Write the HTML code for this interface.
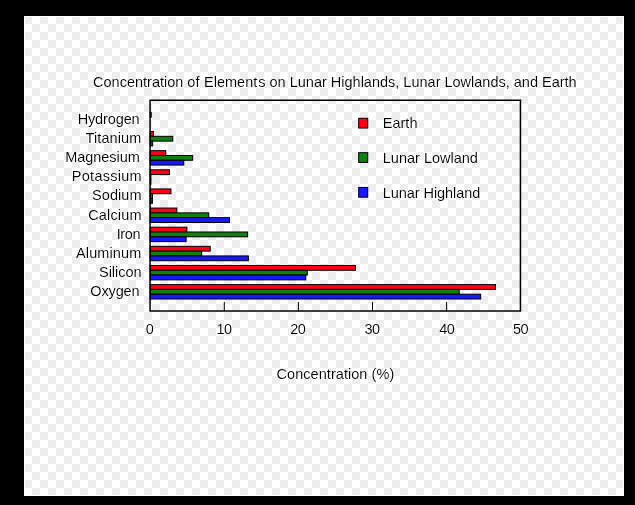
<!DOCTYPE html><html><head><meta charset="utf-8"><title>Concentration of Elements on Lunar Highlands, Lunar Lowlands, and Earth</title><style>html,body{margin:0;padding:0;background:#000;overflow:hidden}svg{display:block;will-change:transform}</style></head><body>
<svg width="635" height="505" viewBox="0 0 635 505" font-family="'Liberation Sans', sans-serif" font-size="14.5">
<defs><filter id="thin" filterUnits="userSpaceOnUse" x="0" y="0" width="635" height="505"><feComponentTransfer><feFuncA type="gamma" amplitude="1" exponent="1.4" offset="0"/></feComponentTransfer></filter><pattern id="ck" patternUnits="userSpaceOnUse" x="24" y="16" width="16" height="16"><rect x="0" y="0" width="8" height="8" fill="#ededed"/><rect x="8" y="8" width="8" height="8" fill="#ededed"/></pattern></defs>
<rect x="0" y="0" width="635" height="505" fill="#000"/>
<rect x="24" y="16" width="600" height="480" fill="#fff"/>
<rect x="25" y="17" width="598" height="478" fill="url(#ck)"/>
<g filter="url(#thin)">
<text x="93.05" y="87">Concentration of <tspan dx="0.6">Element</tspan><tspan dx="1.0">s on Lunar Highlands, Lunar Lowlands, and Earth</tspan></text>
</g><g stroke="#000" stroke-width="1">
<rect x="150.20" y="112.40" width="1.04" height="4.80" fill="#ff0018"/>
<rect x="150.20" y="117.20" width="0.00" height="4.80" fill="#108010"/>
<rect x="150.20" y="122.00" width="0.00" height="4.80" fill="#1818ff"/>
<rect x="150.20" y="131.53" width="3.26" height="4.80" fill="#ff0018"/>
<rect x="150.20" y="136.33" width="22.60" height="4.80" fill="#108010"/>
<rect x="150.20" y="141.13" width="2.45" height="4.80" fill="#1818ff"/>
<rect x="150.20" y="150.67" width="15.56" height="4.80" fill="#ff0018"/>
<rect x="150.20" y="155.47" width="42.46" height="4.80" fill="#108010"/>
<rect x="150.20" y="160.27" width="33.57" height="4.80" fill="#1818ff"/>
<rect x="150.20" y="169.80" width="19.27" height="4.80" fill="#ff0018"/>
<rect x="150.20" y="174.60" width="0.74" height="4.80" fill="#108010"/>
<rect x="150.20" y="179.40" width="0.74" height="4.80" fill="#1818ff"/>
<rect x="150.20" y="188.93" width="20.75" height="4.80" fill="#ff0018"/>
<rect x="150.20" y="193.73" width="2.22" height="4.80" fill="#108010"/>
<rect x="150.20" y="198.53" width="2.22" height="4.80" fill="#1818ff"/>
<rect x="150.20" y="208.06" width="26.68" height="4.80" fill="#ff0018"/>
<rect x="150.20" y="212.87" width="58.54" height="4.80" fill="#108010"/>
<rect x="150.20" y="217.66" width="79.29" height="4.80" fill="#1818ff"/>
<rect x="150.20" y="227.20" width="36.68" height="4.80" fill="#ff0018"/>
<rect x="150.20" y="232.00" width="97.44" height="4.80" fill="#108010"/>
<rect x="150.20" y="236.80" width="35.94" height="4.80" fill="#1818ff"/>
<rect x="150.20" y="246.33" width="60.02" height="4.80" fill="#ff0018"/>
<rect x="150.20" y="251.13" width="51.50" height="4.80" fill="#108010"/>
<rect x="150.20" y="255.93" width="98.18" height="4.80" fill="#1818ff"/>
<rect x="150.20" y="265.46" width="205.26" height="4.80" fill="#ff0018"/>
<rect x="150.20" y="270.26" width="157.09" height="4.80" fill="#108010"/>
<rect x="150.20" y="275.06" width="155.61" height="4.80" fill="#1818ff"/>
<rect x="150.20" y="284.60" width="345.31" height="4.80" fill="#ff0018"/>
<rect x="150.20" y="289.40" width="309.00" height="4.80" fill="#108010"/>
<rect x="150.20" y="294.20" width="330.49" height="4.80" fill="#1818ff"/>
</g>
<g filter="url(#thin)">
<text x="139.65" y="124" text-anchor="end" textLength="62.025" lengthAdjust="spacing">Hydrogen</text>
<text x="141.30" y="143" text-anchor="end" textLength="55.733" lengthAdjust="spacing">Titanium</text>
<text x="139.82" y="162" text-anchor="end" textLength="74.683" lengthAdjust="spacing">Magnesium</text>
<text x="141.61" y="181" text-anchor="end" textLength="69.763" lengthAdjust="spacing">Potassium</text>
<text x="141.50" y="200" text-anchor="end" textLength="49.432" lengthAdjust="spacing">Sodium</text>
<text x="141.51" y="220" text-anchor="end" textLength="53.385" lengthAdjust="spacing">Calcium</text>
<text x="140.50" y="239" text-anchor="end" textLength="23.870" lengthAdjust="spacing">Iron</text>
<text x="141.30" y="258" text-anchor="end" textLength="65.269" lengthAdjust="spacing">Aluminum</text>
<text x="141.50" y="277" text-anchor="end" textLength="42.489" lengthAdjust="spacing">Silicon</text>
<text x="139.55" y="296" text-anchor="end" textLength="49.234" lengthAdjust="spacing">Oxygen</text>
</g>
<path d="M150.07 100.28 L520.45 100.28 L520.45 311.1 L150.07 311.1 Z" fill="none" stroke="#000" stroke-width="1.5"/>
<line x1="224.30" y1="302" x2="224.30" y2="311.1" stroke="#000" stroke-width="1"/>
<line x1="298.40" y1="302" x2="298.40" y2="311.1" stroke="#000" stroke-width="1"/>
<line x1="372.50" y1="302" x2="372.50" y2="311.1" stroke="#000" stroke-width="1"/>
<line x1="446.60" y1="302" x2="446.60" y2="311.1" stroke="#000" stroke-width="1"/>
<g filter="url(#thin)">
<text x="149.70" y="334" text-anchor="middle">0</text>
<text x="224.30" y="334" text-anchor="middle" textLength="15.541" lengthAdjust="spacing">10</text>
<text x="298.00" y="334" text-anchor="middle" textLength="15.541" lengthAdjust="spacing">20</text>
<text x="372.25" y="334" text-anchor="middle" textLength="15.541" lengthAdjust="spacing">30</text>
<text x="447.05" y="334" text-anchor="middle" textLength="15.541" lengthAdjust="spacing">40</text>
<text x="520.70" y="334" text-anchor="middle" textLength="15.541" lengthAdjust="spacing">50</text>
<text x="335.40" y="379" text-anchor="middle" textLength="117.659" lengthAdjust="spacing">Concentration (%)</text>
</g>
<rect x="358.68" y="118.28" width="9.05" height="9.75" fill="#ff0018" stroke="#000" stroke-width="1"/>
<g filter="url(#thin)"><text x="382.80" y="128" textLength="34.672" lengthAdjust="spacing">Earth</text></g>
<rect x="358.68" y="152.68" width="9.05" height="9.75" fill="#108010" stroke="#000" stroke-width="1"/>
<g filter="url(#thin)"><text x="382.80" y="163" textLength="95.141" lengthAdjust="spacing">Lunar Lowland</text></g>
<rect x="358.68" y="187.43" width="9.05" height="9.75" fill="#1818ff" stroke="#000" stroke-width="1"/>
<g filter="url(#thin)"><text x="382.80" y="198" textLength="97.459" lengthAdjust="spacing">Lunar Highland</text></g>
</svg></body></html>
